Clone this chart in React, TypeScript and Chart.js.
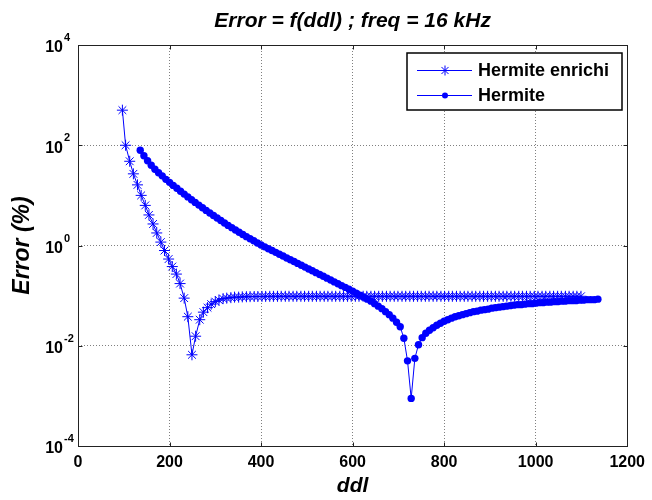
import React, { useEffect, useRef } from 'react';
import { Chart, registerables } from 'chart.js';

Chart.register(...registerables);

// ---------- data ----------
const enrichiDdl = [
  97, 104, 113, 121, 130, 138, 147, 155, 164, 172, 181, 189, 198, 206, 215, 223, 232, 240, 249, 257,
  266, 274, 283, 291, 300, 308, 317, 325, 334, 342, 351, 359, 368, 376, 385, 393, 402, 410, 419, 427,
  436, 444, 453, 461, 470, 478, 487, 495, 504, 512, 521, 529, 538, 546, 555, 563, 572, 580, 589, 597,
  606, 614, 623, 631, 640, 648, 657, 665, 674, 682, 691, 699, 708, 716, 725, 733, 742, 750, 759, 767,
  776, 784, 793, 801, 810, 818, 827, 835, 844, 852, 861, 869, 878, 886, 895, 903, 912, 920, 929, 937,
  946, 954, 963, 971, 980, 988, 997, 1005, 1014, 1022, 1031, 1039, 1048, 1056, 1065, 1073, 1082, 1090, 1099,
];
const enrichiError = [
  501, 100, 47.9, 26.9, 16.2, 10.0, 6.31, 4.07, 2.69, 1.78, 1.17, 0.794, 0.537, 0.380, 0.269, 0.174, 0.0891, 0.0380, 0.0066, 0.0155,
  0.0331, 0.0468, 0.0575, 0.0676, 0.0759, 0.0813, 0.0871, 0.0891, 0.0912, 0.0933, 0.0933, 0.0945, 0.0950, 0.0955, 0.0960, 0.0960, 0.0965, 0.0965, 0.0968, 0.0968,
  0.0970, 0.0970, 0.0970, 0.0970, 0.0970, 0.0970, 0.0970, 0.0970, 0.0970, 0.0970, 0.0970, 0.0970, 0.0970, 0.0970, 0.0970, 0.0970, 0.0970, 0.0970, 0.0970, 0.0970,
  0.0970, 0.0970, 0.0970, 0.0970, 0.0970, 0.0970, 0.0970, 0.0970, 0.0970, 0.0970, 0.0970, 0.0970, 0.0970, 0.0970, 0.0970, 0.0970, 0.0970, 0.0970, 0.0970, 0.0970,
  0.0970, 0.0970, 0.0970, 0.0970, 0.0970, 0.0970, 0.0970, 0.0970, 0.0970, 0.0970, 0.0970, 0.0970, 0.0970, 0.0970, 0.0970, 0.0970, 0.0970, 0.0970, 0.0970, 0.0970,
  0.0970, 0.0970, 0.0970, 0.0970, 0.0970, 0.0970, 0.0970, 0.0970, 0.0970, 0.0970, 0.0970, 0.0970, 0.0970, 0.0970, 0.0970, 0.0970, 0.0970, 0.0970, 0.0970,
];

const hermiteDdl = [
  136, 144, 152, 160, 168, 176, 184, 192, 200, 208, 216, 224, 232, 240, 248, 256, 264, 272, 280, 288,
  296, 304, 312, 320, 328, 336, 344, 352, 360, 368, 376, 384, 392, 400, 408, 416, 424, 432, 440, 448,
  456, 464, 472, 480, 488, 496, 504, 512, 520, 528, 536, 544, 552, 560, 568, 576, 584, 592, 600, 608,
  616, 624, 632, 640, 648, 656, 664, 672, 680, 688, 696, 704, 712, 720, 728, 736, 744, 752, 760, 768,
  776, 784, 792, 800, 808, 816, 824, 832, 840, 848, 856, 864, 872, 880, 888, 896, 904, 912, 920, 928,
  936, 944, 952, 960, 968, 976, 984, 992, 1000, 1008, 1016, 1024, 1032, 1040, 1048, 1056, 1064, 1072, 1080, 1088,
  1096, 1104, 1112, 1120, 1128, 1136,
];
const hermiteError = [
  79.4, 61.7, 49.0, 39.8, 33.1, 28.2, 24.5, 20.9, 18.2, 15.8, 13.9, 12.1, 10.6, 9.33, 8.20, 7.24, 6.40, 5.65, 5.01, 4.45,
  3.96, 3.53, 3.15, 2.82, 2.52, 2.27, 2.04, 1.84, 1.66, 1.50, 1.36, 1.24, 1.12, 1.02, 0.940, 0.863, 0.794, 0.730, 0.670, 0.617,
  0.565, 0.520, 0.478, 0.439, 0.404, 0.371, 0.340, 0.313, 0.287, 0.264, 0.243, 0.223, 0.205, 0.188, 0.173, 0.158, 0.146, 0.134, 0.123, 0.112,
  0.102, 0.0933, 0.0851, 0.0776, 0.0692, 0.0617, 0.0550, 0.0479, 0.0417, 0.0355, 0.0295, 0.0240, 0.0141, 0.0050, 0.00089, 0.0056, 0.0105, 0.0145, 0.0178, 0.0204,
  0.0229, 0.0257, 0.0282, 0.0309, 0.0331, 0.0355, 0.0380, 0.0398, 0.0417, 0.0437, 0.0457, 0.0479, 0.0490, 0.0513, 0.0525, 0.0537, 0.0562, 0.0575, 0.0589, 0.0603,
  0.0617, 0.0631, 0.0646, 0.0661, 0.0661, 0.0676, 0.0692, 0.0692, 0.0708, 0.0724, 0.0724, 0.0741, 0.0741, 0.0759, 0.0759, 0.0776, 0.0776, 0.0794, 0.0794, 0.0794,
  0.0813, 0.0813, 0.0832, 0.0832, 0.0832, 0.0851,
];

const xTickValues = [0, 200, 400, 600, 800, 1000, 1200];
const yTickExponents = [-4, -2, 0, 2, 4];
const seriesLabels = ['Hermite enrichi', 'Hermite'];
const chartTitle = 'Error = f(ddl) ; freq = 16 kHz';
const xAxisTitle = 'ddl';
const yAxisTitle = 'Error (%)';

// ---------- styling ----------
const FONT = "'Liberation Sans', Arial, Helvetica, sans-serif";
const BLUE = '#0000ff';

function drawStar(ctx: CanvasRenderingContext2D, x: number, y: number, r: number) {
  ctx.beginPath();
  ctx.moveTo(x - r, y); ctx.lineTo(x + r, y);
  ctx.moveTo(x, y - r); ctx.lineTo(x, y + r);
  const d = r * Math.SQRT1_2;
  ctx.moveTo(x - d, y - d); ctx.lineTo(x + d, y + d);
  ctx.moveTo(x - d, y + d); ctx.lineTo(x + d, y - d);
  ctx.stroke();
}

const decorPlugin = {
  id: 'matlabDecor',
  afterDraw(chart: any) {
    const { ctx, chartArea } = chart;
    const { left, right, top, bottom } = chartArea;
    const xs = chart.scales.x;
    const ys = chart.scales.y;
    ctx.save();
    // box
    ctx.strokeStyle = '#222';
    ctx.lineWidth = 1;
    ctx.setLineDash([]);
    const L = Math.round(left) + 0.5, R = Math.round(right) + 0.5;
    const T = Math.round(top) + 0.5, B = Math.round(bottom) + 0.5;
    ctx.strokeRect(L, T, R - L, B - T);
    // inward ticks
    ctx.beginPath();
    for (const v of xTickValues) {
      const px = Math.round(xs.getPixelForValue(v)) + 0.5;
      ctx.moveTo(px, B); ctx.lineTo(px, B - 4);
      ctx.moveTo(px, T); ctx.lineTo(px, T + 4);
    }
    for (const e of yTickExponents) {
      const py = Math.round(ys.getPixelForValue(Math.pow(10, e))) + 0.5;
      ctx.moveTo(L, py); ctx.lineTo(L + 4, py);
      ctx.moveTo(R, py); ctx.lineTo(R - 4, py);
    }
    ctx.stroke();
    // exponents of y tick labels
    ctx.fillStyle = '#000';
    ctx.font = `bold 11px ${FONT}`;
    ctx.textAlign = 'left';
    ctx.textBaseline = 'middle';
    for (const e of yTickExponents) {
      const py = ys.getPixelForValue(Math.pow(10, e));
      ctx.fillText(String(e), 64, py - 7);
    }
    // legend
    const lx = 407, ly = 53, lw = 215, lh = 57;
    ctx.fillStyle = '#fff';
    ctx.fillRect(lx, ly, lw, lh);
    ctx.strokeStyle = '#000';
    ctx.lineWidth = 1.5;
    ctx.strokeRect(lx, ly, lw, lh);
    const rows = [ly + 17.5, ly + 42.5];
    ctx.font = `bold 18px ${FONT}`;
    ctx.textAlign = 'left';
    ctx.textBaseline = 'middle';
    rows.forEach((ry, i) => {
      ctx.strokeStyle = BLUE;
      ctx.lineWidth = 1;
      ctx.beginPath();
      ctx.moveTo(417, ry); ctx.lineTo(472, ry);
      ctx.stroke();
      if (i === 0) {
        drawStar(ctx, 445, ry, 5);
      } else {
        ctx.fillStyle = BLUE;
        ctx.beginPath();
        ctx.arc(445, ry, 3, 0, Math.PI * 2);
        ctx.fill();
      }
      ctx.fillStyle = '#000';
      ctx.fillText(seriesLabels[i], 478, ry + 1);
    });
    ctx.restore();
  },
};

export default function App() {
  const canvasRef = useRef<HTMLCanvasElement | null>(null);

  useEffect(() => {
    const canvas = canvasRef.current;
    if (!canvas) return;
    const chart = new Chart(canvas, {
      type: 'line',
      data: {
        datasets: [
          {
            label: seriesLabels[0],
            data: enrichiDdl.map((x, i) => ({ x, y: enrichiError[i] })),
            borderColor: BLUE,
            borderWidth: 1,
            pointStyle: 'star',
            pointRadius: 5.5,
            pointBorderColor: BLUE,
            pointBorderWidth: 1,
            pointBackgroundColor: BLUE,
            tension: 0,
            order: 1,
          },
          {
            label: seriesLabels[1],
            data: hermiteDdl.map((x, i) => ({ x, y: hermiteError[i] })),
            borderColor: BLUE,
            borderWidth: 1,
            pointStyle: 'circle',
            pointRadius: 3.7,
            pointBorderWidth: 0,
            pointBackgroundColor: BLUE,
            pointBorderColor: BLUE,
            tension: 0,
            order: 0,
          },
        ],
      },
      options: {
        responsive: false,
        animation: false,
        events: [],
        layout: { padding: { left: 0, right: 20, top: 0, bottom: 0 } },
        plugins: {
          legend: { display: false },
          tooltip: { enabled: false },
          title: {
            display: true,
            text: chartTitle,
            fullSize: false,
            color: '#000',
            font: { family: FONT, size: 21, weight: 'bold', style: 'italic' },
            padding: { top: 9, bottom: 10.8 },
          },
        },
        scales: {
          x: {
            type: 'linear',
            min: 0,
            max: 1200,
            afterBuildTicks: (scale: any) => {
              scale.ticks = xTickValues.map((v) => ({ value: v }));
            },
            afterFit: (scale: any) => {
              scale.height = 54;
            },
            ticks: {
              color: '#000',
              font: { family: FONT, size: 16, weight: 'bold' },
              padding: 7,
              maxRotation: 0,
              autoSkip: false,
              callback: (v: any) => String(v),
            },
            grid: { color: '#808080', lineWidth: 1, drawTicks: false },
            border: { display: false, dash: [1, 2] },
            title: {
              display: true,
              text: xAxisTitle,
              color: '#000',
              font: { family: FONT, size: 21, weight: 'bold', style: 'italic' },
              padding: { top: 0, bottom: 1 },
            },
          },
          y: {
            type: 'logarithmic',
            min: 1e-4,
            max: 1e4,
            afterBuildTicks: (scale: any) => {
              scale.ticks = yTickExponents.map((e) => ({ value: Math.pow(10, e) }));
            },
            afterFit: (scale: any) => {
              scale.width = 78;
            },
            ticks: {
              color: '#000',
              font: { family: FONT, size: 16, weight: 'bold' },
              padding: 15,
              labelOffset: 3,
              autoSkip: false,
              callback: () => '10',
            },
            grid: { color: '#808080', lineWidth: 1, drawTicks: false },
            border: { display: false, dash: [1, 2] },
            title: {
              display: true,
              text: yAxisTitle,
              color: '#000',
              font: { family: FONT, size: 23, weight: 'bold', style: 'italic' },
              padding: { top: 9, bottom: 0 },
            },
          },
        },
      },
      plugins: [decorPlugin],
    } as any);
    return () => chart.destroy();
  }, []);

  return (
    <div style={{ position: 'fixed', left: 0, top: 0, width: 652, height: 500, background: '#fff' }}>
      <canvas ref={canvasRef} width={652} height={500} style={{ display: 'block', width: 652, height: 500 }} />
    </div>
  );
}
